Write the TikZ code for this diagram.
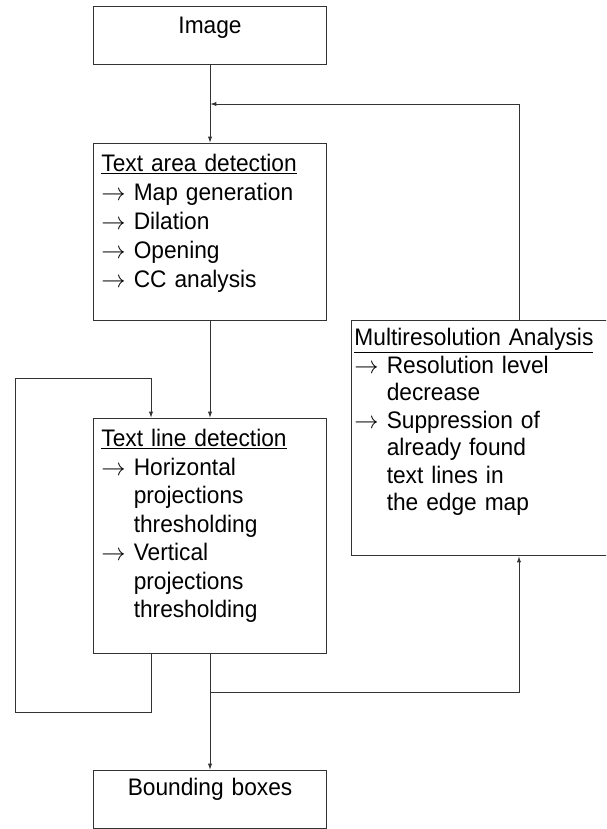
\documentclass[tikz,border=0pt]{standalone}
\usepackage{fontspec}
\setmainfont[FakeStretch=0.95]{Liberation Sans}
\usetikzlibrary{arrows.meta,calc}

\newcommand\arr{$\rightarrow$\ }
\newcommand\arrowgap{\hphantom{$\rightarrow$\ }}

\begin{document}
\begin{tikzpicture}[
    x=0.025cm, y=-0.025cm,
    blk/.style={draw=black!80, line width=0.7pt, anchor=north west,
      inner xsep=0.2cm, inner ysep=0pt, text width=5.425cm, align=left,
      font=\fontsize{17}{20.3}\selectfont},
    title blk/.style={blk, align=center},
    flow/.style={draw=black!80, line width=0.7pt,
      -{Latex[length=4.5pt,width=3pt]}},
    link/.style={draw=black!80, line width=0.7pt}
    ]
    \clip (0,0) rectangle (606,829);

    % boxes
    \node[title blk, text height=0.675cm, text depth=0.775cm] (img) at (93,6) {Image};
    \node[blk, text height=0.7cm, text depth=3.725cm, font=\fontsize{17}{20.6}\selectfont] (area) at (93,143)
      {\underline{Text area detection}\\
       \arr Map generation\\
       \arr Dilation\\
       \arr Opening\\
       \arr CC analysis};
    \node[blk, text height=0.7cm, text depth=5.175cm] (line) at (93,418)
      {\underline{Text line detection}\\
       \arr Horizontal\\
       \arrowgap projections\\
       \arrowgap thresholding\\
       \arr Vertical\\
       \arrowgap projections\\
       \arrowgap thresholding};
    \node[blk, inner xsep=0.075cm, text width=6.6cm, text height=0.625cm, text depth=5.25cm,
      font=\fontsize{17}{19.6}\selectfont] (multi) at (351,320)
      {\underline{Multiresolution Analysis}\\
       \arr Resolution level\\
       \arrowgap decrease\\
       \arr Suppression of\\
       \arrowgap already found\\
       \arrowgap text lines in\\
       \arrowgap the edge map};
    \node[title blk, text height=0.625cm, text depth=0.825cm] (bbox) at (93,770) {Bounding boxes};

    % helper points
    \coordinate (fbjoin) at ($(img.south)!0.5!(area.north)$);
    \coordinate (fb) at (519,320);
    \coordinate (split) at (209.5,692);
    \coordinate (loopl) at (15.5,712);
    \coordinate (looptop) at (151,378);

    % main flow
    \draw[flow] (img.south) -- (area.north);
    \draw[flow] (area.south) -- (line.north);
    \draw[flow] (line.south) -- (bbox.north);

    % multiresolution feedback
    \draw[flow] (split) -| (multi.south -| fb);
    \draw[flow] (fb) |- (fbjoin);

    % text line loop
    \draw[flow] (line.south -| looptop) |- (loopl) |- (looptop) -- (line.north -| looptop);

\end{tikzpicture}
\end{document}
